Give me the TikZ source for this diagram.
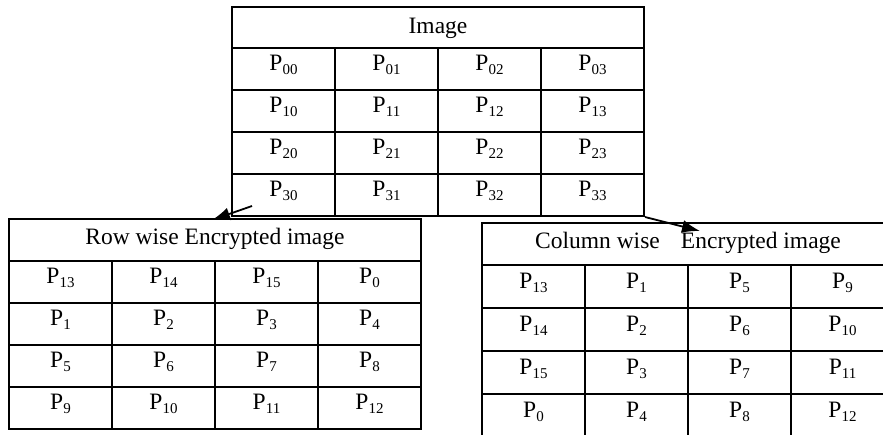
\documentclass[tikz,border=0pt]{standalone}
\usepackage{fontspec}
\setmainfont{Liberation Serif}
\usetikzlibrary{arrows.meta, positioning}
\newcommand{\pix}[1]{P\raisebox{-4pt}{\fontsize{15}{15}\selectfont #1}}

\begin{document}
\begin{tikzpicture}[x=1pt, y=-1pt, line width=2pt,
    every node/.style={font=\fontsize{23.5}{28}\selectfont, inner sep=0pt},
    head/.style={draw, minimum width=412, minimum height=42, text height=16, text depth=8},
    cell/.style={draw, minimum width=103, minimum height=42, text height=15, text depth=12},
    link/.style={-{Latex[length=18pt, width=13pt]}, line width=1.8pt}]
    \useasboundingbox (0, 0) rectangle (883, 434);
    \node[head, minimum height=41, text depth=5] (imghead) at (438, 27.5) {Image};
    \foreach \r in {0, 1, 2, 3}
        \foreach \c in {0, 1, 2, 3}
            \node[cell] (img-\r\c) at (283.5 + 103*\c, 69 + 42*\r) {\pix{\r\c}};
    \node[head] (rowhead) at (215, 240) {Row wise Encrypted image};
    \foreach \r in {0, 1, 2, 3}
        \foreach \c in {0, 1, 2, 3} {
            \pgfmathtruncatemacro{\k}{mod(4*\r + \c + 13, 16)}
            \node[cell] (row-\r\c) at (60.5 + 103*\c, 282 + 42*\r) {\pix{\k}};
        }
    \node[head] (colhead) at (688, 244) {Column wise\hspace{0.9em}Encrypted image};
    \foreach \r in {0, 1, 2, 3}
        \foreach \c in {0, 1, 2, 3} {
            \pgfmathtruncatemacro{\k}{mod(4*\c + \r + 13, 16)}
            \node[cell, minimum height=43] (col-\r\c) at (533.5 + 103*\c, 286.5 + 43*\r) {\pix{\k}};
        }
    \coordinate (rowfrom) at (252, 206);
    \coordinate (colfrom) at (img-33.south east);
    \draw[link] (rowfrom) -- ([xshift=-3pt, yshift=-2pt]rowhead.north);
    \draw[link] (colfrom) -- ([xshift=12pt, yshift=-9pt]colhead.north);
\end{tikzpicture}
\end{document}
